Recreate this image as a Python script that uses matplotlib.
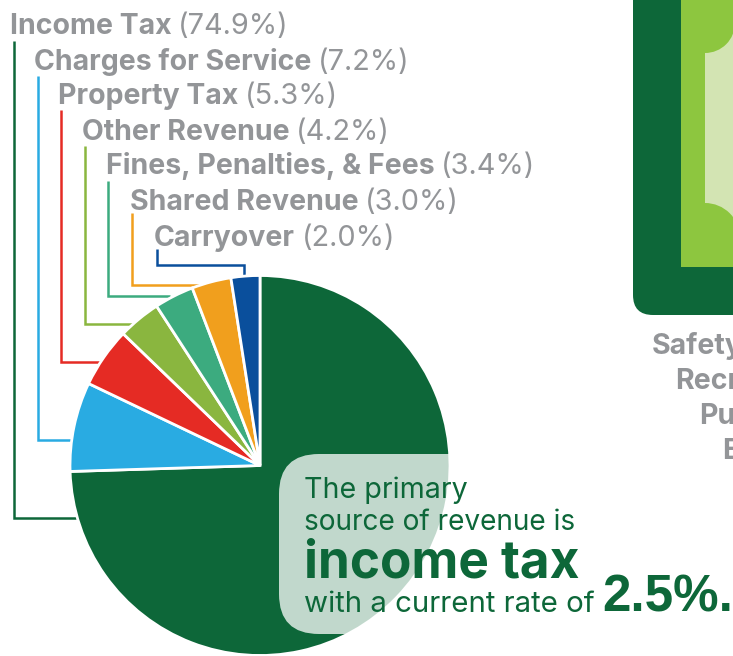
import matplotlib
matplotlib.use("Agg")
import matplotlib.pyplot as plt
from matplotlib.patches import FancyBboxPatch, Rectangle, Circle

categories = ["Income Tax", "Charges for Service", "Property Tax", "Other Revenue",
              "Fines, Penalties, & Fees", "Shared Revenue", "Carryover"]
# percentages as printed in the labels
shares = [74.9, 7.2, 5.3, 4.2, 3.4, 3.0, 2.0]
slice_sizes = [74.5, 7.6, 5.1, 3.64, 3.36, 3.35, 2.45]
colors = ["#0d6739", "#29abe2", "#e52b24", "#8ab63f", "#3cab7f", "#f19f1d", "#0a4f9c"]
side_labels = ["Safety", "Recr", "Pu", "E"]

W, H = 733, 656
GREY = "#939598"
GREEN = "#0d6739"
FONT = "Inter"
plt.rcParams["font.family"] = [FONT, "DejaVu Sans"]

def Y(p):
    return H - p

fig = plt.figure(figsize=(W / 100, H / 100), dpi=100)
ax = fig.add_axes([0, 0, 1, 1])

# pie
ax.pie(slice_sizes, colors=colors, startangle=90, counterclock=False, center=(260, Y(465.5)),
       radius=190, wedgeprops=dict(edgecolor="white", linewidth=2.0, zorder=2), frame=True)
ax.set_xlim(0, W)
ax.set_ylim(0, H)
ax.set_aspect("equal")
ax.axis("off")

# leaders
leaders = [
    [(14, 41), (14, 518), (80, 518)],
    [(38, 76), (38, 440), (75, 440)],
    [(61, 110), (61, 362), (104, 362)],
    [(85, 146), (85, 324), (135, 324)],
    [(108, 181), (108, 296), (170, 296)],
    [(132, 213), (132, 285), (205, 285)],
    [(156.5, 249), (156.5, 265), (244, 265), (244, 280)],
]
for pts, c in zip(leaders, colors):
    ax.plot([p[0] for p in pts], [Y(p[1]) for p in pts], color=c, lw=1.8, zorder=1,
            solid_joinstyle="miter", solid_capstyle="butt")

# category labels: bold name followed by light percentage
renderer = fig.canvas.get_renderer()
starts = [9.5, 33.5, 57.5, 81.5, 105.5, 129.5, 153.5]
baselines = [34.5, 69.5, 104.5, 139.5, 174.5, 210.5, 245.5]
for name, val, x, y in zip(categories, shares, starts, baselines):
    t = ax.text(x, Y(y), name, fontsize=20.5, fontweight="bold", color=GREY, va="baseline", ha="left")
    end = ax.transData.inverted().transform(t.get_window_extent(renderer).get_points())[1][0]
    ax.text(end + 7, Y(y), f"({val:.1f}%)", fontsize=20.8, fontweight="normal", color=GREY,
            va="baseline", ha="left")

# translucent callout
box = FancyBboxPatch((279 + 40, Y(634) + 40), 300, 100, boxstyle="round,pad=40,rounding_size=40",
                     fc="white", ec="none", alpha=0.75, zorder=3)
ax.add_patch(box)

# callout text
ax.text(304, Y(498), "The primary", fontsize=20.6, fontweight="normal", color=GREEN, va="baseline", zorder=4)
ax.text(304, Y(530), "source of revenue is", fontsize=20.2, fontweight="normal", color=GREEN, va="baseline", zorder=4)
ax.text(304, Y(578), "income tax", fontsize=37, fontweight="bold", color=GREEN, va="baseline", zorder=4)
ax.text(304, Y(612), "with a current rate of", fontsize=21.2, fontweight="normal", color=GREEN, va="baseline", zorder=4)
ax.text(733, Y(612), "2.5%.", fontsize=36.8, fontweight="bold", family="Liberation Sans", color=GREEN,
        va="baseline", ha="right", zorder=4)

# banknote graphic at upper right
note = FancyBboxPatch((633 + 20, Y(315) + 20), 200, 400, boxstyle="round,pad=20,rounding_size=20",
                      fc=GREEN, ec="none", zorder=1)
ax.add_patch(note)
inner = Rectangle((681, Y(267)), 80, 290, fc="#8dc63f", ec="none", zorder=2)
ax.add_patch(inner)
ax.add_patch(Rectangle((705, Y(240)), 40, 220, fc="#d3e4b3", ec="none", zorder=2.1))
for cx, cy, r in [(705, 23, 30), (705, 238, 35)]:
    c = Circle((cx, Y(cy)), r, fc="#8dc63f", ec="none", zorder=2.2)
    ax.add_patch(c)
    c.set_clip_path(inner)

for s, x, y in zip(side_labels, [651.5, 675.5, 699.5, 722.5], [354, 389, 424, 459]):
    ax.text(x, Y(y), s, fontsize=20.5, fontweight="bold", color=GREY, va="baseline", ha="left")

fig.savefig("out.png", dpi=100)
